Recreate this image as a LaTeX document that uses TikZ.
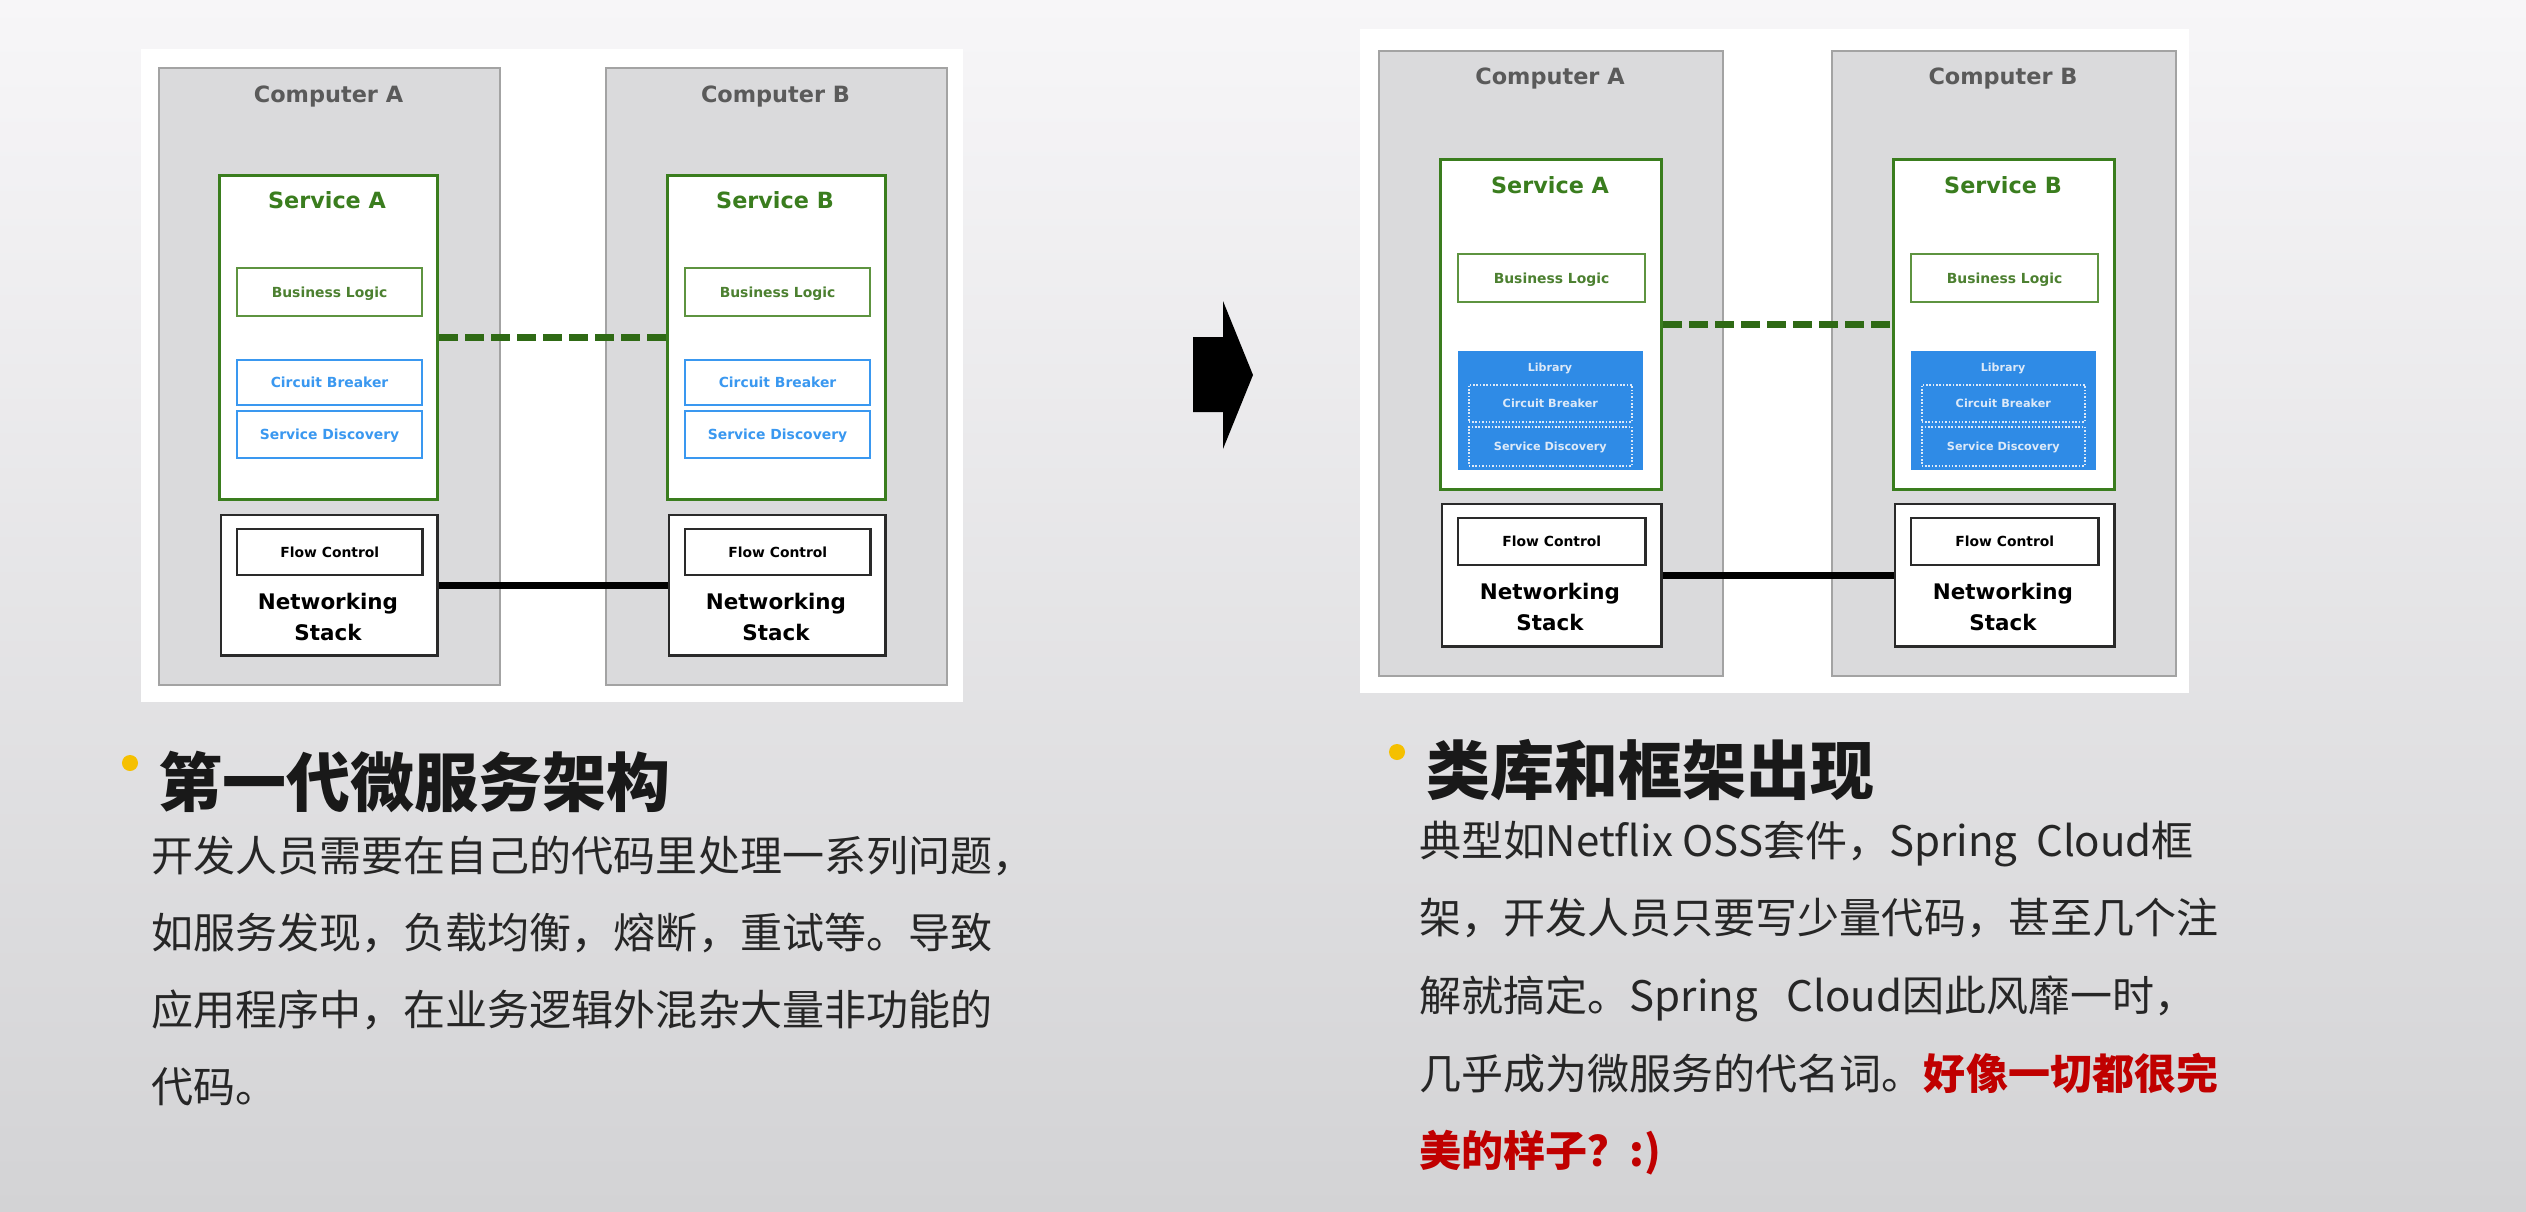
\documentclass[tikz,border=0pt]{standalone}
\usepackage{fontspec}
\setmainfont{DejaVu Sans}
\newfontfamily\cjk{Noto Sans CJK SC}

\definecolor{bgtop}{HTML}{F7F6F8}
\definecolor{bgbot}{HTML}{D3D3D5}
\definecolor{compfill}{HTML}{DADADC}
\definecolor{compline}{HTML}{A3A3A3}
\definecolor{comptext}{HTML}{5A5A5A}
\definecolor{svcgreen}{HTML}{3A7D1E}
\definecolor{blgreen}{HTML}{5E9440}
\definecolor{bltext}{HTML}{4C8030}
\definecolor{cbblue}{HTML}{3A98F0}
\definecolor{libblue}{HTML}{2F8BE6}
\definecolor{libtext}{HTML}{DCE9F8}
\definecolor{dashgreen}{HTML}{2F6A15}
\definecolor{boxdark}{HTML}{2A2A2A}
\definecolor{bulletc}{HTML}{F5C000}
\definecolor{redc}{HTML}{C00000}
\definecolor{bodytext}{HTML}{262626}

% box given by its top-left and bottom-right corners (in px units)
\newcommand{\rbox}[7]{%
  \pgfmathsetmacro{\rbw}{(#5-#3)/100}%
  \pgfmathsetmacro{\rbh}{(#6-#4)/100}%
  \node[#1,anchor=north west,minimum width=\rbw cm,minimum height=\rbh cm] (#2) at (#3,#4) {#7};}

\begin{document}
\begin{tikzpicture}[x=0.01cm,y=-0.01cm,
  dpanel/.style={fill=white,draw=none,inner sep=0},
  dcomp/.style={fill=compfill,draw=compline,line width=0.6pt,inner sep=0},
  dsvc/.style={fill=white,draw=svcgreen,line width=0.85pt,inner sep=0},
  dsmall/.style={inner sep=0,text height=2.88pt,text depth=0pt,
    font=\bfseries\fontsize{3.95pt}{5pt}\selectfont},
  dbl/.style={dsmall,fill=white,draw=blgreen,line width=0.55pt,text=bltext},
  dcb/.style={dsmall,fill=white,draw=cbblue,line width=0.55pt,text=cbblue},
  dnet/.style={fill=white,draw=boxdark,line width=0.7pt,inner sep=0},
  dfc/.style={dsmall,fill=white,draw=boxdark,line width=0.7pt,text=black},
  dlib/.style={fill=libblue,draw=none,inner sep=0},
  dlibpart/.style={inner sep=0,text height=2.34pt,text depth=0pt,
    draw=libtext,line width=0.45pt,dash pattern=on 0.45pt off 0.5pt,text=libtext,
    font=\bfseries\fontsize{3.2pt}{4pt}\selectfont},
  dlibtitle/.style={inner sep=0,anchor=base,text=libtext,
    font=\bfseries\fontsize{3.15pt}{4pt}\selectfont},
  dcomptitle/.style={inner sep=0,anchor=base,text=comptext,
    font=\bfseries\fontsize{6.37pt}{7pt}\selectfont},
  dsvctitle/.style={inner sep=0,anchor=base,text=svcgreen,
    font=\bfseries\fontsize{6.35pt}{7pt}\selectfont},
  dnettext/.style={inner sep=0,align=center,text=black,
    font=\bfseries\fontsize{6.1pt}{8.8pt}\selectfont},
  dashlink/.style={draw=dashgreen,line width=1.85pt,dash pattern=on 0.185cm off 0.075cm},
  netlink/.style={draw=black,line width=2pt},
  headline/.style={inner sep=0,anchor=base west,text=black!90,
    font=\cjk\bfseries\fontsize{18.2pt}{20pt}\selectfont},
  bodyline/.style={inner sep=0,anchor=base west,text=bodytext,
    font=\cjk\fontsize{11.95pt}{14pt}\selectfont},
  hot/.style={text=redc}]

% page background
\begin{scope}[y=0.01cm]
  \shade[top color=bgtop,bottom color=bgbot] (0,0) rectangle (2526,-1212);
\end{scope}
\useasboundingbox (0,0) rectangle (2526,1212);

% ---------------- first generation ----------------
\rbox{dpanel}{pL}{140}{48}{962}{701}{}
\rbox{dcomp}{cAL}{158}{67}{499}{684}{}
\rbox{dcomp}{cBL}{605}{67}{946}{684}{}
\node[dcomptitle] (tAL) at (328.5,102) {Computer A};
\node[dcomptitle] (tBL) at (775.5,102) {Computer B};

\rbox{dsvc}{sAL}{218}{174}{436}{498}{}
\node[dsvctitle] (stAL) at (327,208) {Service A};
\rbox{dbl}{bAL}{236}{267}{421}{315}{Business Logic}
\rbox{dcb}{cbAL}{236}{359}{421}{404}{Circuit Breaker}
\rbox{dcb}{sdAL}{236}{410}{421}{457}{Service Discovery}
\rbox{dnet}{nAL}{220}{514}{436}{654}{}
\rbox{dfc}{fAL}{236}{528}{421}{574}{Flow Control}
\node[dnettext] (ntAL) at (328,617) {Networking\\Stack};

\rbox{dsvc}{sBL}{666}{174}{884}{498}{}
\node[dsvctitle] (stBL) at (775,208) {Service B};
\rbox{dbl}{bBL}{684}{267}{869}{315}{Business Logic}
\rbox{dcb}{cbBL}{684}{359}{869}{404}{Circuit Breaker}
\rbox{dcb}{sdBL}{684}{410}{869}{457}{Service Discovery}
\rbox{dnet}{nBL}{668}{514}{884}{654}{}
\rbox{dfc}{fBL}{684}{528}{869}{574}{Flow Control}
\node[dnettext] (ntBL) at (776,617) {Networking\\Stack};

\draw[dashlink] (sAL.east) -- (sBL.west);
\draw[netlink] (nAL.east) -- (nBL.west);

% ---------------- transition arrow ----------------
\fill[black] (1193,337) -- (1223,337) -- (1223,301) -- (1253,375)
  -- (1223,449) -- (1223,412) -- (1193,412) -- cycle;

% ---------------- libraries and frameworks ----------------
\rbox{dpanel}{pR}{1359}{28}{2188}{692}{}
\rbox{dcomp}{cAR}{1378}{50}{1722}{675}{}
\rbox{dcomp}{cBR}{1831}{50}{2175}{675}{}
\node[dcomptitle] (tAR) at (1550,84) {Computer A};
\node[dcomptitle] (tBR) at (2003,84) {Computer B};

\rbox{dsvc}{sAR}{1439}{158}{1660}{488}{}
\node[dsvctitle] (stAR) at (1550,193) {Service A};
\rbox{dbl}{bAR}{1457}{253}{1644}{301}{Business Logic}
\rbox{dlib}{lAR}{1457}{350}{1642}{469}{}
\node[dlibtitle] (ltAR) at (1550,371) {Library};
\rbox{dlibpart}{cbAR}{1468}{384}{1631}{421}{Circuit Breaker}
\rbox{dlibpart}{sdAR}{1468}{426}{1631}{465}{Service Discovery}
\rbox{dnet}{nAR}{1441}{503}{1660}{645}{}
\rbox{dfc}{fAR}{1457}{517}{1644}{564}{Flow Control}
\node[dnettext] (ntAR) at (1550,607) {Networking\\Stack};

\rbox{dsvc}{sBR}{1892}{158}{2113}{488}{}
\node[dsvctitle] (stBR) at (2003,193) {Service B};
\rbox{dbl}{bBR}{1910}{253}{2097}{301}{Business Logic}
\rbox{dlib}{lBR}{1910}{350}{2095}{469}{}
\node[dlibtitle] (ltBR) at (2003,371) {Library};
\rbox{dlibpart}{cbBR}{1921}{384}{2084}{421}{Circuit Breaker}
\rbox{dlibpart}{sdBR}{1921}{426}{2084}{465}{Service Discovery}
\rbox{dnet}{nBR}{1894}{503}{2113}{645}{}
\rbox{dfc}{fBR}{1910}{517}{2097}{564}{Flow Control}
\node[dnettext] (ntBR) at (2003,607) {Networking\\Stack};

\draw[dashlink] (sAR.east) -- (sBR.west);
\draw[netlink] (nAR.east) -- (nBR.west);

% ---------------- captions ----------------
\fill[bulletc] (130,763) circle[radius=0.08cm];
\node[headline] (hL) at (158,806) {第一代微服务架构};
\node[bodyline] (bL1) at (151,871) {开发人员需要在自己的代码里处理一系列问题，};
\node[bodyline] (bL2) at (151,948) {如服务发现，负载均衡，熔断，重试等。导致};
\node[bodyline] (bL3) at (151,1025) {应用程序中，在业务逻辑外混杂大量非功能的};
\node[bodyline] (bL4) at (151,1102) {代码。};

\fill[bulletc] (1397,752) circle[radius=0.08cm];
\node[headline] (hR) at (1426,794) {类库和框架出现};
\node[bodyline] (bR1) at (1419,856) {典型如Netflix OSS套件，Spring\ \ Cloud框};
\node[bodyline] (bR2) at (1419,933) {架，开发人员只要写少量代码，甚至几个注};
\node[bodyline] (bR3) at (1419,1011) {解就搞定。Spring\ \ \ Cloud因此风靡一时，};
\node[bodyline] (bR4) at (1419,1089) {几乎成为微服务的代名词。{\bfseries\color{redc}好像一切都很完}};
\node[bodyline,hot] (bR5) at (1419,1166) {\bfseries 美的样子？:)};

\end{tikzpicture}
\end{document}
